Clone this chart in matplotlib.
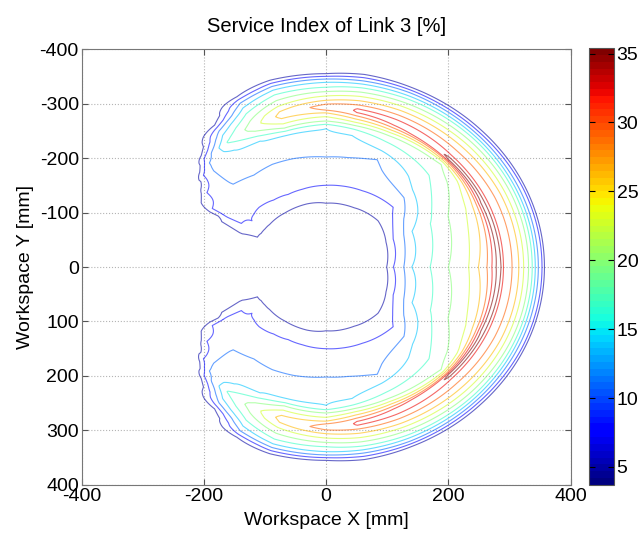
import numpy as np
import matplotlib.pyplot as plt
from matplotlib import colors, cm

plt.rcParams['font.family'] = ['Liberation Sans', 'DejaVu Sans']
plt.rcParams['axes.unicode_minus'] = False

# service index read along rays from the origin (angle in deg, mirrored about the X axis)
# each ray: radii [mm] where the contour lines cross, and the index there [%]
angles_deg = [0, 25, 45, 67, 80, 90, 105, 115, 125, 135, 140, 145, 150, 154, 158, 180]

r_000 = [90, 99, 110, 127, 140, 170, 200, 233, 249, 263, 271, 278, 282, 286, 290, 304, 315, 323, 331, 337, 342, 347, 353, 357, 366]
z_000 = [2, 5, 8, 11, 14, 17, 20, 23, 26, 29, 32, 35, 35.4, 35, 32, 29, 26, 23, 20, 17, 14, 11, 8, 5, 2]
r_025 = [96, 108, 121, 140, 155, 188, 220, 252, 264, 271, 275, 279, 282, 285, 290, 304, 315, 323, 331, 337, 342, 347, 353, 357, 366]
z_025 = [2, 5, 8, 11, 14, 17, 20, 23, 26, 29, 32, 35, 35.4, 35, 32, 29, 26, 23, 20, 17, 14, 11, 8, 5, 2]
r_045 = [108, 120, 155, 180, 200, 238, 266, 271, 274, 277, 279, 281, 283, 285, 290, 302, 313, 322, 330, 337, 342, 347, 352, 357, 366]
z_045 = [2, 5, 8, 11, 14, 17, 20, 23, 26, 29, 32, 35, 35.3, 35, 32, 29, 26, 23, 20, 17, 14, 11, 8, 5, 2]
r_067 = [105, 118, 152, 214, 232, 250, 262, 268, 273, 278, 283, 288, 294, 303, 312, 320, 328, 336, 342, 348, 353, 358, 367]
z_067 = [2, 5, 8, 11, 14, 17, 20, 23, 26, 29, 32, 33.8, 32, 29, 26, 23, 20, 17, 14, 11, 8, 5, 2]
r_080 = [105, 118, 151, 204, 245, 257, 264, 270, 276, 282, 288, 291, 295, 302, 310, 318, 326, 334, 341, 347, 353, 359, 368]
z_080 = [2, 5, 8, 11, 14, 17, 20, 23, 26, 29, 32, 32.3, 32, 29, 26, 23, 20, 17, 14, 11, 8, 5, 2]
r_090 = [105, 117, 150, 202, 254, 262, 268, 276, 283, 288, 294, 299, 306, 314, 322, 330, 339, 345, 350, 355, 361, 370]
z_090 = [2, 5, 8, 11, 14, 17, 20, 23, 26, 29, 30.5, 29, 26, 23, 20, 17, 14, 11, 8, 5, 2, 0]
r_105 = [105, 120, 148, 206, 250, 258, 264, 272, 282, 288, 295, 305, 316, 327, 336, 343, 349, 355, 364]
z_105 = [2, 5, 8, 11, 14, 17, 20, 23, 26, 27, 26, 23, 20, 17, 14, 11, 8, 5, 2]
r_115 = [108, 120, 147, 208, 255, 265, 275, 285, 295, 310, 322, 332, 339, 345, 355]
z_115 = [2, 5, 8, 11, 14, 17, 20, 21.5, 20, 17, 14, 11, 8, 5, 2]
r_125 = [108, 120, 150, 206, 262, 280, 295, 305, 312, 318, 328]
z_125 = [2, 5, 8, 11, 14, 17.3, 14, 11, 8, 5, 2]
r_135 = [110, 121, 155, 215, 255, 270, 282, 289, 298]
z_135 = [2, 5, 8, 11, 11.8, 11, 8, 5, 2]
r_140 = [110, 121, 153, 220, 262, 270, 278]
z_140 = [2, 5, 8, 10, 8, 5, 2]
r_145 = [110, 122, 148, 200, 238, 250, 258]
z_145 = [2, 5, 8, 9, 8, 5, 2]
r_150 = [110, 123, 160, 185, 215, 236, 245]
z_150 = [2, 5, 8, 8.4, 8, 5, 2]
r_154 = [112, 125, 155, 190, 200]
z_154 = [2, 5, 6, 5, 2]
r_158 = [112, 150, 200]
z_158 = [2, 4.2, 2]
r_180 = [110, 200]
z_180 = [2, 2]

rays = [(r_000, z_000), (r_025, z_025), (r_045, z_045), (r_067, z_067), (r_080, z_080),
        (r_090, z_090), (r_105, z_105), (r_115, z_115), (r_125, z_125), (r_135, z_135),
        (r_140, z_140), (r_145, z_145), (r_150, z_150), (r_154, z_154), (r_158, z_158),
        (r_180, z_180)]

levels = [5, 8, 11, 14, 17, 20, 23, 26, 29, 32, 35]
cbar_ticks = [5, 10, 15, 20, 25, 30, 35]

# polar grid, ray profiles blended across the angle
r = np.linspace(80, 380, 601)
th = np.linspace(-180, 180, 1441)
rows = np.array([np.interp(r, rr, zz) for rr, zz in rays])
Z = np.empty((th.size, r.size))
for j in range(r.size):
    Z[:, j] = np.interp(np.abs(th), angles_deg, rows[:, j])
R, TH = np.meshgrid(r, np.radians(th))
X = R * np.cos(TH)
Y = R * np.sin(TH)

jet = plt.get_cmap('jet', 64)
norm = colors.Normalize(vmin=3.7, vmax=35.4)

fig = plt.figure(figsize=(6.42, 5.34), dpi=100)
ax = fig.add_axes([0.127, 0.092, 0.762, 0.816])
cax = fig.add_axes([0.917, 0.092, 0.039, 0.818])

ax.contour(X, Y, Z, levels=levels, cmap=jet, norm=norm, linewidths=0.8, alpha=0.6)

ax.set_xlim(-400, 400)
ax.set_ylim(400, -400)
ax.set_xticks([-400, -200, 0, 200, 400])
ax.set_yticks(np.arange(-400, 401, 100))
ax.grid(True, linestyle=':', color='#b4b4b4', linewidth=0.8)
ax.tick_params(direction='in', length=4, labelsize=14, pad=2, top=True, right=True, color='#555555')
for s in ax.spines.values():
    s.set_color('#777777')
    s.set_linewidth(0.8)

ax.set_title('Service Index of Link 3 [%]', fontsize=14.5, pad=12)
ax.set_xlabel('Workspace X [mm]', fontsize=14, labelpad=5)
ax.set_ylabel('Workspace Y [mm]', fontsize=14, labelpad=4)

cb = fig.colorbar(cm.ScalarMappable(norm=norm, cmap=jet), cax=cax, ticks=cbar_ticks)
cb.ax.tick_params(direction='in', length=4, labelsize=14, pad=2, left=True, right=True)
cb.outline.set_edgecolor('#555555')
cb.outline.set_linewidth(0.8)

fig.savefig('out.png', dpi=100)
